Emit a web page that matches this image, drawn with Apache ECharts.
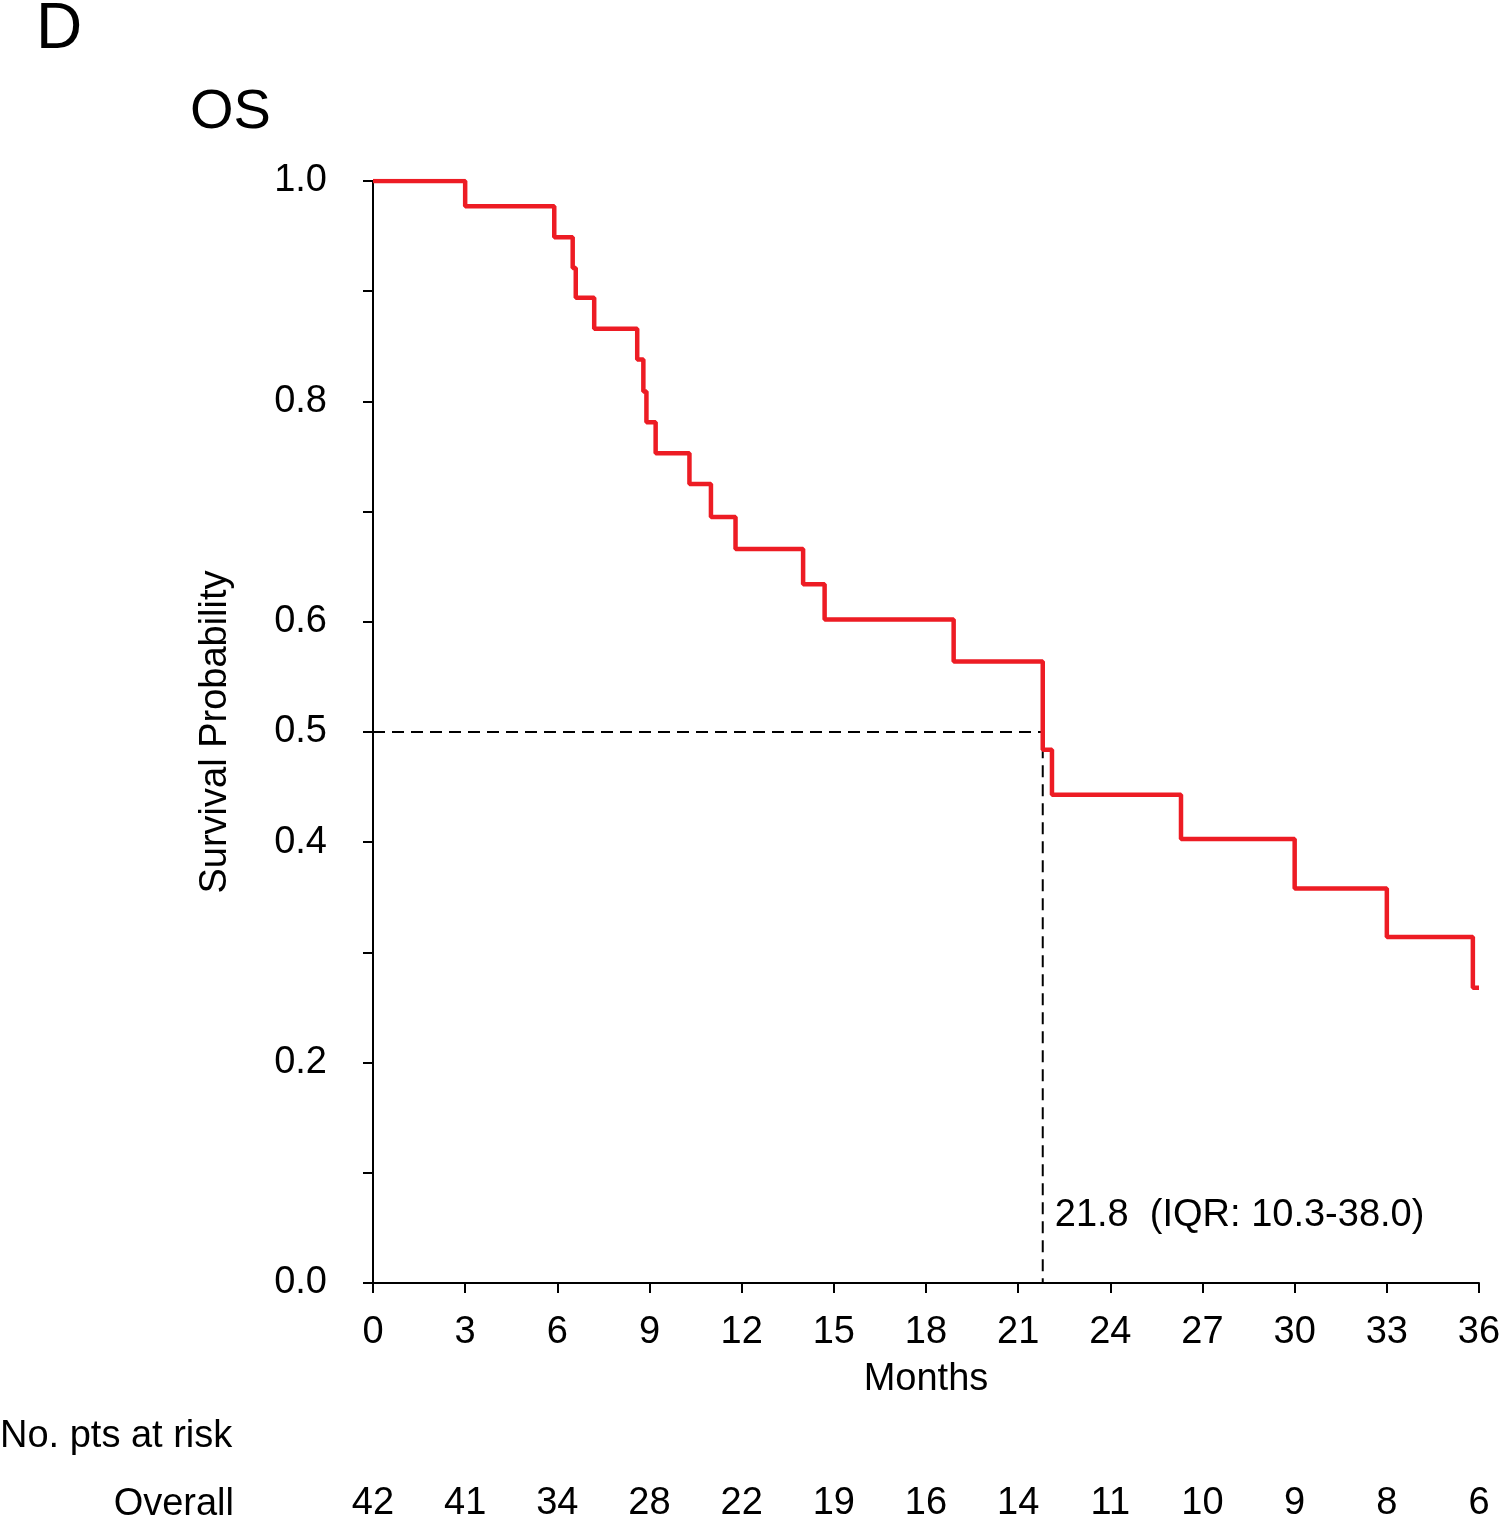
<!DOCTYPE html>
<html>
<head>
<meta charset="utf-8">
<script src="https://cdn.jsdelivr.net/npm/echarts@6.0.0/dist/echarts.min.js"></script>
<style>
  html, body { margin: 0; padding: 0; background: #fff; }
  #main { width: 1500px; height: 1517px; }
</style>
</head>
<body>
<div id="main"></div>
<script>
  // Kaplan-Meier steps: time (months) and survival after that time
  var months = [0, 3.0, 5.9, 6.5, 6.6, 7.2, 8.6, 8.8, 8.9, 9.2, 10.3, 11.0, 11.8, 14.0, 14.7, 18.9, 21.8, 22.1, 26.3, 30.0, 33.0, 35.8, 36.0];
  var survival = [1.0, 0.977, 0.949, 0.921, 0.894, 0.866, 0.838, 0.809, 0.781, 0.753, 0.725, 0.695, 0.666, 0.634, 0.602, 0.564, 0.484, 0.443, 0.403, 0.358, 0.314, 0.268, 0.268];

  // number at risk table
  var riskMonths = [0, 3, 6, 9, 12, 15, 18, 21, 24, 27, 30, 33, 36];
  var atRisk = [42, 41, 34, 28, 22, 19, 16, 14, 11, 10, 9, 8, 6];

  // y labels that are printed (ticks every 0.1)
  var yLabelled = [0, 0.2, 0.4, 0.5, 0.6, 0.8, 1.0];

  var medianOS = 21.8;
  var medianLabel = '21.8  (IQR: 10.3-38.0)';

  var FONT = "'Liberation Sans', Arial, sans-serif";
  var RED = '#ed1c24';

  var kmData = [];
  for (var i = 0; i < months.length; i++) {
    kmData.push([months[i], survival[i]]);
  }

  var myChart = echarts.init(document.getElementById('main'));
  myChart.setOption({
    animation: false,
    backgroundColor: '#fff',
    grid: {
      left: 373,
      right: 21,
      top: 181,
      bottom: 234,
      outerBoundsMode: 'none'
    },
    xAxis: [
      {
        type: 'value',
        min: 0,
        max: 36,
        interval: 3,
        name: 'Months',
        nameLocation: 'middle',
        nameGap: 78,
        nameTextStyle: { fontFamily: FONT, fontSize: 38, color: '#000' },
        axisLine: { onZero: false, lineStyle: { color: '#000', width: 2 } },
        axisTick: { show: true, length: 10, lineStyle: { color: '#000', width: 2 } },
        axisLabel: { margin: 31, fontFamily: FONT, fontSize: 38, color: '#000' },
        splitLine: { show: false }
      },
      {
        // at-risk numbers, aligned to the month ticks
        type: 'value',
        position: 'bottom',
        offset: 194,
        min: 0,
        max: 36,
        interval: 3,
        axisLine: { show: false },
        axisTick: { show: false },
        splitLine: { show: false },
        axisLabel: {
          margin: 8,
          fontFamily: FONT,
          fontSize: 38,
          color: '#000',
          formatter: function (v) {
            var k = riskMonths.indexOf(v);
            return k >= 0 ? String(atRisk[k]) : '';
          }
        }
      }
    ],
    yAxis: {
      type: 'value',
      min: 0,
      max: 1,
      interval: 0.1,
      name: 'Survival Probability',
      nameLocation: 'middle',
      nameGap: 138,
      nameTextStyle: { fontFamily: FONT, fontSize: 38, color: '#000' },
      axisLine: { show: true, lineStyle: { color: '#000', width: 2 } },
      axisTick: { show: true, length: 10, lineStyle: { color: '#000', width: 2 } },
      axisLabel: {
        margin: 46,
        padding: [10, 0, 0, 0],
        fontFamily: FONT,
        fontSize: 38,
        color: '#000',
        formatter: function (v) {
          var r = Math.round(v * 10) / 10;
          return yLabelled.indexOf(r) >= 0 ? r.toFixed(1) : '';
        }
      },
      splitLine: { show: false }
    },
    graphic: [
      {
        type: 'text', x: 36, y: 30,
        style: { text: 'D', font: '64px ' + FONT, fill: '#000', textAlign: 'left', textVerticalAlign: 'middle', align: 'left', verticalAlign: 'middle' }
      },
      {
        type: 'text', x: 190, y: 113,
        style: { text: 'OS', font: '56px ' + FONT, fill: '#000', textAlign: 'left', textVerticalAlign: 'middle', align: 'left', verticalAlign: 'middle' }
      },
      {
        type: 'text', x: 0, y: 1437,
        style: { text: 'No. pts at risk', font: '38px ' + FONT, fill: '#000', textAlign: 'left', textVerticalAlign: 'middle', align: 'left', verticalAlign: 'middle' }
      },
      {
        type: 'text', x: 234, y: 1505,
        style: { text: 'Overall', font: '38px ' + FONT, fill: '#000', textAlign: 'right', textVerticalAlign: 'middle', align: 'right', verticalAlign: 'middle' }
      }
    ],
    series: [
      {
        name: 'median',
        type: 'line',
        data: [[0, 0.5], [medianOS, 0.5], [medianOS, 0]],
        symbol: 'none',
        silent: true,
        lineStyle: { color: '#000', width: 2, type: [12, 7] },
        z: 1
      },
      {
        name: 'OS',
        type: 'line',
        step: 'end',
        data: kmData,
        symbol: 'none',
        lineStyle: { color: RED, width: 4.5 },
        z: 3
      },
      {
        name: 'label',
        type: 'scatter',
        data: [[medianOS, 0.061]],
        symbolSize: 0,
        silent: true,
        itemStyle: { opacity: 1 },
        label: {
          show: true,
          position: 'right',
          distance: 12,
          formatter: medianLabel,
          fontFamily: FONT,
          fontSize: 38,
          color: '#000',
          opacity: 1
        }
      }
    ]
  });
</script>
</body>
</html>
